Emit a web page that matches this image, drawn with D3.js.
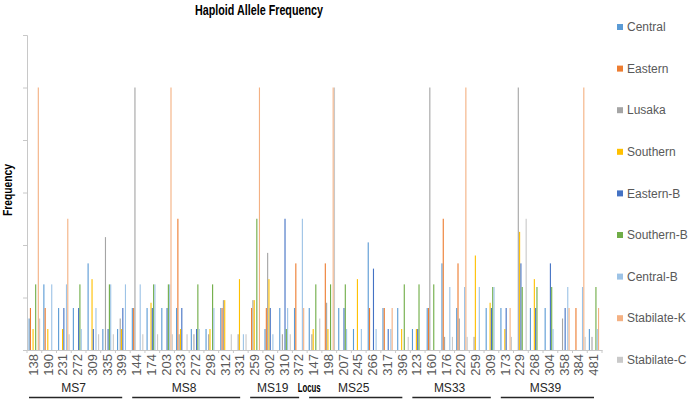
<!DOCTYPE html>
<html>
<head>
<meta charset="utf-8">
<script src="https://cdn.jsdelivr.net/npm/d3@7"></script>
<style>
  html, body { margin: 0; padding: 0; background: #fff; }
  svg { display: block; }
</style>
</head>
<body>
<div id="chart"></div>
<script>
"use strict";

var categories = [
  "138", "190", "231", "272", "309", "335", "399",
  "144", "174", "203", "233", "272", "298", "312", "331",
  "259", "302", "310", "372",
  "147", "198", "207", "245", "266", "317", "396",
  "123", "160", "176", "220", "259", "309",
  "173", "229", "268", "304", "358", "384", "481"
];

var groups = [
  { name: "MS7", first: 0, last: 6 },
  { name: "MS8", first: 7, last: 14 },
  { name: "MS19", first: 15, last: 18 },
  { name: "MS25", first: 19, last: 25 },
  { name: "MS33", first: 26, last: 31 },
  { name: "MS39", first: 32, last: 38 }
];

var seriesNames = ["Central", "Eastern", "Lusaka", "Southern", "Eastern-B", "Southern-B", "Central-B", "Stabilate-K", "Stabilate-C"];
var seriesColors = ["#5B9BD5", "#ED7D31", "#A5A5A5", "#FFC000", "#4472C4", "#70AD47", "#9DC3E6", "#F4B183", "#C9C9C9"];

var central    = [.12, .25, .16, .16, .33, .08, .08, .16, .16, .16, .16, .08, .08, .16, 0, 0, .08, .16, .16, .16, 0, .16, .08, .41, .16, .16, .08, .16, .33, .16, 0, .16, .16, 0, .16, .16, 0, 0, .08];
var eastern    = [.16, .16, 0, 0, 0, 0, 0, .16, 0, 0, .5, 0, 0, .16, 0, .16, .16, 0, .33, 0, .33, 0, 0, .16, .16, 0, 0, .16, .5, .33, 0, 0, 0, 0, 0, 0, 0, .16, 0];
var lusaka     = [0, 0, 0, 0, 0, .43, .12, 1.0, 0, 0, .06, .06, .06, .19, .06, .19, .37, .06, 0, .06, .18, 0, 0, 0, 0, 0, 0, 1.0, .05, .12, .05, 0, 0, 1.0, 0, 0, .12, 0, .05];
var southern   = [.08, .08, .08, 0, .27, 0, .08, 0, .18, 0, .08, 0, .08, .19, .27, .19, .27, 0, 0, .08, .08, 0, .27, 0, 0, .08, .08, 0, 0, 0, .36, .18, .08, .45, .27, 0, 0, 0, 0];
var easternB   = [0, 0, .16, .16, .08, .08, .16, 0, .16, .16, .16, .08, 0, 0, 0, 0, .16, .5, 0, 0, 0, .16, 0, .31, .08, 0, .08, 0, 0, 0, 0, .16, .16, .33, .16, .33, .16, 0, 0];
var southernB  = [.25, 0, 0, .25, 0, .25, 0, 0, .25, .25, 0, .25, .25, 0, 0, .5, 0, .08, 0, .25, .25, .25, 0, 0, 0, .25, .25, .25, 0, 0, 0, .24, 0, .24, .24, .24, 0, 0, .24];
var centralB   = [0, .25, .25, .08, .16, .25, .25, .25, .25, .25, 0, .08, .16, 0, .06, 0, .06, .16, .5, 0, 0, .08, .08, .08, .08, 0, 0, 0, .24, .24, .24, .24, 0, 0, 0, .08, .24, .24, .08];
var stabilateK = [1.0, 0, .5, 0, 0, 0, 0, 0, 0, 1.0, 0, 0, 0, 0, 0, 1.0, 0, 0, .16, 0, 1.0, 0, 0, 0, .16, 0, 0, 0, 0, 1.0, 0, 0, .16, 0, 0, 0, .16, 1.0, .16];
var stabilateC = [.12, 0, .06, 0, .06, .06, 0, .06, .06, .06, .06, 0, 0, .06, .06, 0, 0, .06, 0, .12, 1.0, 0, 0, 0, 0, .05, 0, 0, .05, .05, 0, 0, .05, .5, 0, 0, 0, .05, 0];

var seriesValues = [central, eastern, lusaka, southern, easternB, southernB, centralB, stabilateK, stabilateC];
var yTicks = [0, 0.2, 0.4, 0.6, 0.8, 1.0, 1.2];

var W = 688, H = 401;
var PLOT = { left: 27, right: 602, top: 35, bottom: 350 };
var AXIS_COLOR = "#C8C8C8";
var TEXT_COLOR = "#595959";
var SANS = "'Liberation Sans', Arial, sans-serif";

var svg = d3.select("#chart").append("svg")
    .attr("width", W)
    .attr("height", H);

var x0 = d3.scaleBand().domain(d3.range(categories.length)).range([PLOT.left, PLOT.right]);
var x1 = d3.scaleBand().domain(d3.range(seriesNames.length)).range([0, x0.bandwidth()])
    .paddingInner(0.15).paddingOuter(1.2);
var y = d3.scaleLinear().domain([0, 1.2]).range([PLOT.bottom, PLOT.top]);

// bold condensed-looking labels: squeeze to the measured width
function boldLabel(sel, size, len) {
  return sel.style("font-family", SANS)
    .style("font-weight", "bold")
    .style("font-size", size + "px")
    .style("fill", "#000")
    .attr("textLength", len)
    .attr("lengthAdjust", "spacingAndGlyphs");
}

boldLabel(svg.append("text")
    .attr("x", 259)
    .attr("y", 15)
    .attr("text-anchor", "middle"), 14, 128)
    .text("Haploid Allele Frequency");

// Bars, one small cluster per allele
var rows = categories.map(function (c, i) {
  return seriesValues.map(function (vals, s) { return { cat: i, s: s, v: vals[i] }; });
});

svg.append("g")
  .selectAll("g")
  .data(rows)
  .enter()
  .append("g")
  .attr("transform", function (d, i) { return "translate(" + x0(i) + ",0)"; })
  .selectAll("rect")
  .data(function (d) { return d.filter(function (b) { return b.v > 0; }); })
  .enter()
  .append("rect")
  .attr("x", function (d) { return x1(d.s); })
  .attr("width", x1.bandwidth())
  .attr("y", function (d) { return y(d.v); })
  .attr("height", function (d) { return y(0) - y(d.v); })
  .attr("fill", function (d) { return seriesColors[d.s]; });

// Y axis, no labels
var yAxis = svg.append("g")
    .attr("transform", "translate(" + PLOT.left + ",0)")
    .call(d3.axisLeft(y).tickValues(yTicks).tickSize(4).tickFormat(""));
yAxis.selectAll("path, line").attr("stroke", AXIS_COLOR);

// X axis with rotated allele labels
var xAxis = svg.append("g")
    .attr("transform", "translate(0," + PLOT.bottom + ")")
    .call(d3.axisBottom(x0).tickSize(0).tickFormat(function (i) { return categories[i]; }));
xAxis.select("path").attr("stroke", AXIS_COLOR);
xAxis.selectAll("text")
    .attr("transform", "rotate(-90)")
    .attr("x", -4)
    .attr("y", -1)
    .attr("dy", "0.35em")
    .attr("text-anchor", "end")
    .style("font-family", SANS)
    .style("font-size", "13px")
    .style("fill", TEXT_COLOR);

svg.append("g")
  .selectAll("line")
  .data(d3.range(categories.length + 1))
  .enter()
  .append("line")
  .attr("x1", function (i) { return PLOT.left + i * x0.step(); })
  .attr("x2", function (i) { return PLOT.left + i * x0.step(); })
  .attr("y1", PLOT.bottom)
  .attr("y2", PLOT.bottom + 3)
  .attr("stroke", AXIS_COLOR);

boldLabel(svg.append("text")
    .attr("transform", "translate(12,190) rotate(-90)")
    .attr("text-anchor", "middle"), 13, 52)
    .text("Frequency");

// Locus groups underneath
var grp = svg.append("g").selectAll("g").data(groups).enter().append("g");
grp.append("line")
    .attr("x1", function (d) { return x0(d.first) + 2; })
    .attr("x2", function (d) { return x0(d.last) + x0.bandwidth() - 8; })
    .attr("y1", 397.5)
    .attr("y2", 397.5)
    .attr("stroke", "#262626")
    .attr("stroke-width", 1.5);
grp.append("text")
    .attr("x", function (d) { return (x0(d.first) + x0(d.last) + x0.bandwidth() - 6) / 2 - 2; })
    .attr("y", 392)
    .attr("text-anchor", "middle")
    .style("font-family", SANS)
    .style("font-size", "12px")
    .style("fill", "#262626")
    .text(function (d) { return d.name; });

boldLabel(svg.append("text")
    .attr("x", x0(19) + 2)
    .attr("y", 392)
    .attr("text-anchor", "middle"), 12.5, 23)
    .text("Locus");

// Legend
var legend = svg.append("g")
  .selectAll("g")
  .data(seriesNames)
  .enter()
  .append("g")
  .attr("transform", function (d, i) { return "translate(617," + (27 + i * 41.6) + ")"; });
legend.append("rect")
    .attr("x", 0)
    .attr("y", -3)
    .attr("width", 6)
    .attr("height", 6)
    .attr("fill", function (d, i) { return seriesColors[i]; });
legend.append("text")
    .attr("x", 10)
    .attr("y", 0)
    .attr("dy", "0.35em")
    .style("font-family", SANS)
    .style("font-size", "12px")
    .style("fill", TEXT_COLOR)
    .text(function (d) { return d; });
</script>
</body>
</html>
